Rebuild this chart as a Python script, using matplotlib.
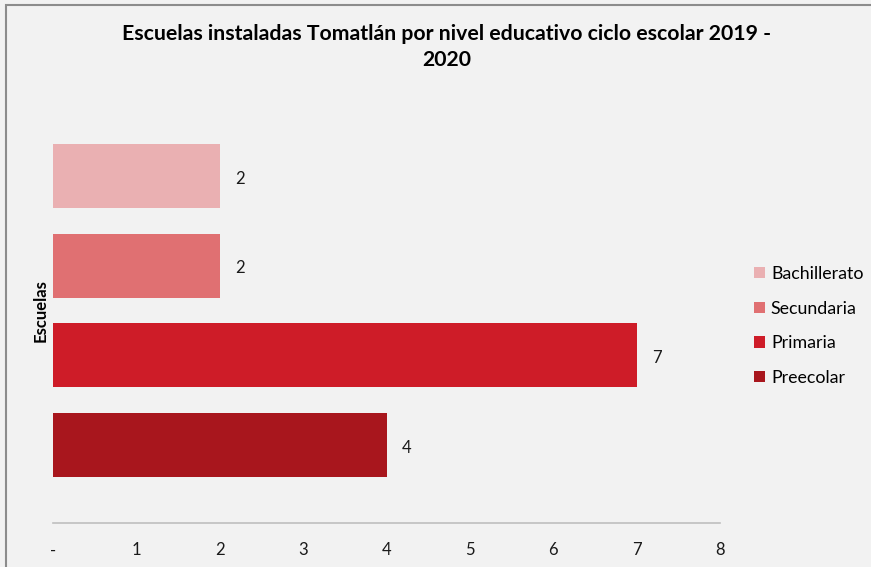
import matplotlib.pyplot as plt
from matplotlib.patches import Rectangle

niveles = ["Preecolar", "Primaria", "Secundaria", "Bachillerato"]
escuelas = [4, 7, 2, 2]
colores = ["#A8161D", "#CE1C28", "#E07072", "#EAB0B2"]
ticks_x = [0, 1, 2, 3, 4, 5, 6, 7, 8]
tick_labels = ["-", "1", "2", "3", "4", "5", "6", "7", "8"]

plt.rcParams['font.family'] = ['Lato', 'DejaVu Sans']

fig = plt.figure(figsize=(8.71, 5.67), dpi=100)
fig.patch.set_facecolor("#F2F2F2")
fig.patches.append(Rectangle((6 / 871, -0.1), 1.2, (567 - 5) / 567 + 0.1,
                             transform=fig.transFigure, fill=False,
                             edgecolor="#8C8C8C", linewidth=1.5))

ax = fig.add_axes([53 / 871, 44 / 567, 667 / 871, 425 / 567])
ax.set_facecolor("#F2F2F2")

pos = range(len(niveles))
bars = ax.barh(pos, escuelas, height=0.715, color=colores)
for b, v in zip(bars, escuelas):
    ax.text(v + 0.18, b.get_y() + b.get_height() / 2 - 0.03, str(v),
            va="center", ha="left", fontsize=12, color="#1a1a1a")

ax.set_xlim(0, 8)
ax.set_ylim(-0.871, 3.871)
ax.set_xticks(ticks_x)
ax.set_xticklabels(tick_labels, fontsize=12, color="#1a1a1a")
ax.set_yticks([])
ax.tick_params(axis="x", length=0, pad=14)
for s in ["top", "right", "left"]:
    ax.spines[s].set_visible(False)
ax.spines["bottom"].set_color("#BFBFBF")
ax.spines["bottom"].set_linewidth(1.2)

ax.set_ylabel("Escuelas", fontsize=12, fontweight="bold", labelpad=3)

fig.text(447 / 871, 1 - 47 / 567,
         "Escuelas instaladas Tomatlán por nivel educativo ciclo escolar 2019 -\n2020",
         ha="center", va="center", fontsize=15.3, fontweight="bold",
         linespacing=1.4)

handles = list(bars)[::-1]
labels = niveles[::-1]
fig.legend(handles, labels, loc="center left",
           bbox_to_anchor=(738 / 871, 1 - 326 / 567), frameon=False,
           fontsize=12.8, handlelength=0.6, handleheight=0.6,
           handletextpad=0.35, labelspacing=1.05)

fig.savefig("out.png", dpi=100, facecolor=fig.get_facecolor())
